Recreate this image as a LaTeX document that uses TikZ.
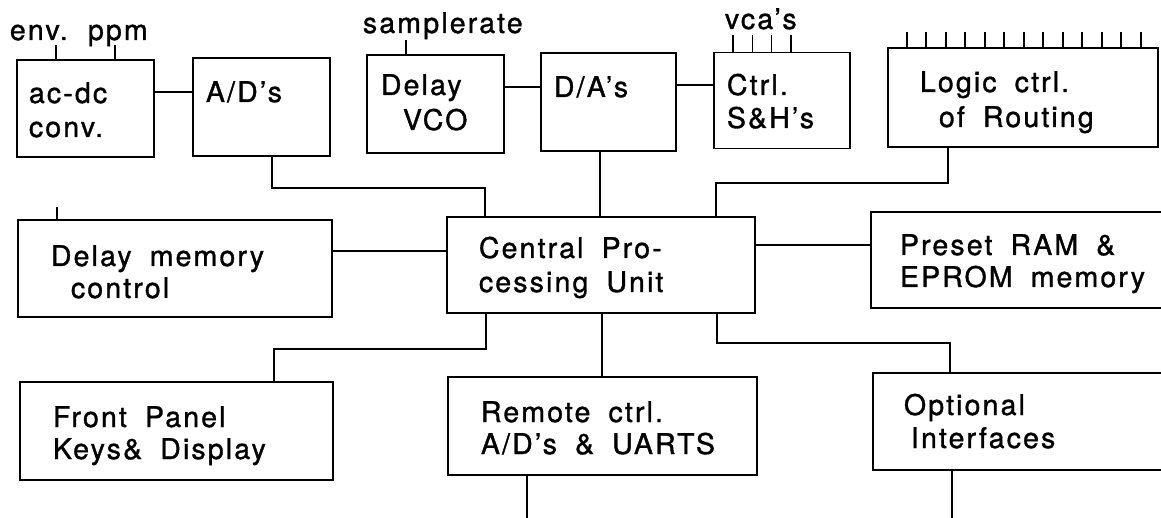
\documentclass[tikz,border=0pt]{standalone}
\usepackage{fontspec}
\setmainfont{TeX Gyre Heros}[LetterSpace=7.5,WordSpace=1.8,FakeBold=1.2]
\begin{document}
\begin{tikzpicture}[x=1pt,y=-1pt,line width=1.9pt,
  blk/.style={draw,rectangle,inner sep=0pt,outer sep=0pt,line width=1.9pt},
  lbl/.style={anchor=base west,inner sep=0pt,font=\fontsize{28.5}{30}\selectfont}]
\useasboundingbox (0,0) rectangle (1161,518);
\clip (0,0) rectangle (1161,518);
% boxes
\node[blk,minimum width=137pt,minimum height=97pt] (acdc) at (85.5,108.5) {};
\node[blk,minimum width=137pt,minimum height=98pt] (ad) at (261.5,107) {};
\node[blk,minimum width=137pt,minimum height=98pt] (vco) at (435.5,104) {};
\node[blk,minimum width=135pt,minimum height=98pt] (da) at (608.5,102) {};
\node[blk,minimum width=136pt,minimum height=96pt] (sh) at (782,100.5) {};
\node[blk,minimum width=270pt,minimum height=99pt] (logic) at (1023,97.5) {};
\node[blk,minimum width=314pt,minimum height=97pt] (dmc) at (175,268.5) {};
\node[blk,minimum width=308pt,minimum height=96pt] (cpu) at (601,265) {};
\node[blk,minimum width=304pt,minimum height=96pt] (preset) at (1023,260) {};
\node[blk,minimum width=313pt,minimum height=98pt] (fp) at (176.5,431) {};
\node[blk,minimum width=309pt,minimum height=98pt] (rem) at (602.5,426) {};
\node[blk,minimum width=302pt,minimum height=97pt] (opt) at (1024,421.5) {};
% labels
\node[lbl] (tenv) at (9,40) {env.};
\node[lbl] (tppm) at (87,40) {ppm};
\node[lbl] (tacdc1) at (28,103) {ac-dc};
\node[lbl] (tacdc2) at (28,137) {conv.};
\node[lbl] (tad) at (205,102) {A/D's};
\node[lbl] (tsr) at (362,33) {samplerate};
\node[lbl] (tvco1) at (380,95) {Delay};
\node[lbl] (tvco2) at (402,130) {VCO};
\node[lbl] (tda) at (553,97) {D/A's};
\node[lbl] (tvca) at (724,29) {vca's};
\node[lbl] (tsh1) at (726,95) {Ctrl.};
\node[lbl] (tsh2) at (726,128) {S\&H's};
\node[lbl] (tlog1) at (919,92) {Logic ctrl.};
\node[lbl] (tlog2) at (938,127) {of Routing};
\node[lbl] (tdmc1) at (50,266) {Delay memory};
\node[lbl] (tdmc2) at (70,298) {control};
\node[lbl] (tcpu1) at (478,258) {Central Pro-};
\node[lbl] (tcpu2) at (478,292) {cessing Unit};
\node[lbl] (tpre1) at (899,255) {Preset RAM \&};
\node[lbl] (tpre2) at (899,287) {EPROM memory};
\node[lbl] (tfp1) at (52,427) {Front Panel};
\node[lbl] (tfp2) at (52,459) {Keys\& Display};
\node[lbl] (trem1) at (480,422) {Remote ctrl.};
\node[lbl] (trem2) at (480,454) {A/D's \& UARTS};
\node[lbl] (topt1) at (903,415) {Optional};
\node[lbl] (topt2) at (910,448) {Interfaces};
% free ends
\coordinate (remout) at (527,518);
\coordinate (optout) at (952,518);
% connectors
\draw (acdc.east |- 0,92) -- (ad.west |- 0,92);
\draw (vco.east |- 0,87) -- (da.west |- 0,87);
\draw (da.east |- 0,85) -- (sh.west |- 0,85);
\draw (ad.south -| 272,0) -- (272,188) -- (485,188) -- (cpu.north -| 485,0);
\draw (da.south -| 600,0) -- (cpu.north -| 600,0);
\draw (cpu.north -| 716,0) -- (716,183) -- (948,183) -- (logic.south -| 948,0);
\draw (dmc.east |- 0,251) -- (cpu.west |- 0,251);
\draw (cpu.east |- 0,245) -- (preset.west |- 0,245);
\draw (cpu.south -| 486,0) -- (486,349) -- (274,349) -- (fp.north -| 274,0);
\draw (cpu.south -| 602,0) -- (rem.north -| 602,0);
\draw (cpu.south -| 717,0) -- (717,343) -- (950,343) -- (opt.north -| 950,0);
\draw (rem.south -| remout) -- (remout);
\draw (opt.south -| optout) -- (optout);
% ticks (signal inputs)
\foreach \x in {56,115} \draw (acdc.north -| \x,0) -- (\x,45);
\draw (vco.north -| 406,0) -- (406,40);
\foreach \x in {733,752.5,771.5,791} \draw (sh.north -| \x,0) -- (\x,35);
\foreach \i in {0,...,12} \draw (logic.north -| 906.7+19.5*\i,0) -- (906.7+19.5*\i,32);
\draw (dmc.north -| 57,0) -- (57,207);
\end{tikzpicture}
\end{document}
